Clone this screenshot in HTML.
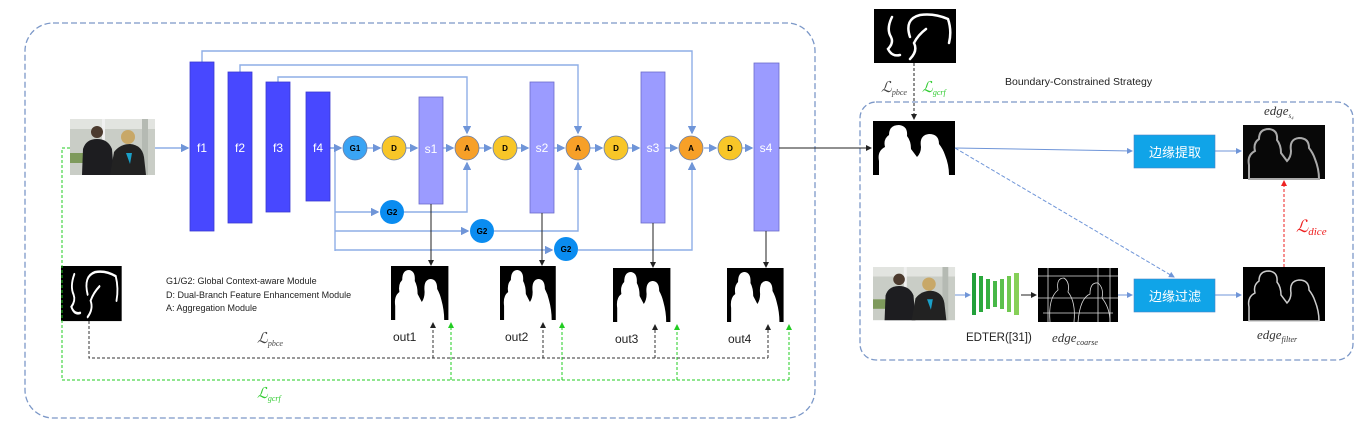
<!DOCTYPE html>
<html><head><meta charset="utf-8"><style>
html,body{margin:0;padding:0;background:#fff;}
svg{display:block;font-family:"Liberation Sans","Noto Sans CJK SC",sans-serif;}
</style></head><body>
<svg width="1366" height="425" viewBox="0 0 1366 425" xmlns="http://www.w3.org/2000/svg">
<defs>
<marker id="ab" markerWidth="6" markerHeight="6" refX="5" refY="3" orient="auto"><path d="M0,0 L6,3 L0,6z" fill="#6f95d8"/></marker>
<marker id="ak" markerWidth="6" markerHeight="6" refX="5" refY="3" orient="auto"><path d="M0,0 L6,3 L0,6z" fill="#222"/></marker>
<marker id="ag" markerWidth="6" markerHeight="6" refX="5" refY="3" orient="auto"><path d="M0,0 L6,3 L0,6z" fill="#2c2"/></marker>
<marker id="ar" markerWidth="6" markerHeight="6" refX="5" refY="3" orient="auto"><path d="M0,0 L6,3 L0,6z" fill="#e22"/></marker>
<g id="photo">
<rect width="85" height="56" fill="#c9cdc6"/>
<rect x="0" y="0" width="85" height="10" fill="#e2e4e0"/>
<rect x="32" y="0" width="3" height="56" fill="#f0f0f0"/>
<rect x="72" y="0" width="6" height="56" fill="#b5bab3"/>
<rect x="0" y="34" width="30" height="10" fill="#7e9a5c"/>
<circle cx="27" cy="13" r="6" fill="#4b3a2e"/>
<path d="M12,56 L13,30 Q16,20 27,20 Q38,20 42,30 L44,56z" fill="#1d1d20"/>
<circle cx="58" cy="18" r="7" fill="#c8a868"/>
<path d="M40,56 L44,33 Q50,25 60,25 Q72,26 74,38 L76,56z" fill="#222"/>
<path d="M56,34 L62,34 L60,45 z" fill="#1aa0c8"/>
</g>
<path id="pp" d="M6,54 L6,40 Q4,30 12,26 Q10,18 16,14 Q16,4 26,4 Q35,5 34,15 Q38,20 38,28 L44,36 Q48,32 48,26 Q46,14 56,13 Q66,13 66,23 Q70,28 72,34 Q76,44 76,54z"/>
<g id="mask"><rect width="82" height="54" fill="#000"/><use href="#pp" fill="#fff"/></g>
<g id="edge"><rect width="82" height="54" fill="#000"/><use href="#pp" fill="none" stroke="#ccc" stroke-width="1.5"/></g>
<g id="scrib">
<rect width="82" height="54" fill="#000"/>
<path d="M18,8 Q12,20 17,28 Q20,34 14,40 Q18,48 26,46 M36,50 Q44,42 40,34 Q44,26 52,20 M36,28 Q30,10 46,6 Q60,4 74,10 Q78,22 75,34" fill="none" stroke="#fff" stroke-width="2.5" stroke-linecap="round"/>
</g>
</defs>

<rect x="25" y="23" width="790" height="395" rx="28" fill="none" stroke="#7c98c8" stroke-width="1.3" stroke-dasharray="6,3"/>
<rect x="860" y="102" width="493" height="258" rx="16" fill="none" stroke="#7c98c8" stroke-width="1.3" stroke-dasharray="6,3"/>

<g fill="none" stroke="#8eaee6" stroke-width="1.4">
<path d="M202,62 V51 H692 V133" marker-end="url(#ab)"/>
<path d="M240,72 V65 H578 V133" marker-end="url(#ab)"/>
<path d="M278,82 V77 H467 V133" marker-end="url(#ab)"/>
<path d="M330,148 H335 V251"/>
<path d="M335,212 H378" marker-end="url(#ab)"/>
<path d="M404,212 H467 V163" marker-end="url(#ab)"/>
<path d="M335,231 H468" marker-end="url(#ab)"/>
<path d="M494,231 H578 V163" marker-end="url(#ab)"/>
<path d="M335,250 H552" marker-end="url(#ab)"/>
<path d="M578,250 H692 V163" marker-end="url(#ab)"/>
<path d="M155,148 H188" marker-end="url(#ab)"/>
<path d="M330,148 H341" marker-end="url(#ab)"/>
<path d="M367,148 H380" marker-end="url(#ab)"/>
<path d="M406,148 H417" marker-end="url(#ab)"/>
<path d="M443,148 H453" marker-end="url(#ab)"/>
<path d="M479,148 H491" marker-end="url(#ab)"/>
<path d="M517,148 H528" marker-end="url(#ab)"/>
<path d="M554,148 H564" marker-end="url(#ab)"/>
<path d="M590,148 H602" marker-end="url(#ab)"/>
<path d="M628,148 H639" marker-end="url(#ab)"/>
<path d="M665,148 H677" marker-end="url(#ab)"/>
<path d="M704,148 H716" marker-end="url(#ab)"/>
<path d="M742,148 H752" marker-end="url(#ab)"/>
</g>

<g fill="#4848ff" stroke="#3a3ad0" stroke-width="0.8">
<rect x="190" y="62" width="24" height="169"/>
<rect x="228" y="72" width="24" height="151"/>
<rect x="266" y="82" width="24" height="130"/>
<rect x="306" y="92" width="24" height="109"/>
</g>
<g fill="#9b9bff" stroke="#6b6bcc" stroke-width="0.8">
<rect x="419" y="97" width="24" height="107"/>
<rect x="530" y="82" width="24" height="131"/>
<rect x="641" y="72" width="24" height="151"/>
<rect x="754" y="63" width="25" height="168"/>
</g>
<g fill="#fff" font-size="12" text-anchor="middle">
<text x="202" y="152">f1</text><text x="240" y="152">f2</text><text x="278" y="152">f3</text><text x="318" y="152">f4</text>
<text x="431" y="153">s1</text><text x="542" y="152">s2</text><text x="653" y="152">s3</text><text x="766" y="152">s4</text>
</g>
<g stroke="#6a7fa8" stroke-width="0.8" font-size="8" font-weight="bold" text-anchor="middle">
<circle cx="355" cy="148" r="12" fill="#3aa4f4"/><text x="355" y="151" stroke="none">G1</text>
<circle cx="394" cy="148" r="12" fill="#f8c628"/><text x="394" y="151" stroke="none">D</text>
<circle cx="467" cy="148" r="12" fill="#f7a028"/><text x="467" y="151" stroke="none">A</text>
<circle cx="505" cy="148" r="12" fill="#f8c628"/><text x="505" y="151" stroke="none">D</text>
<circle cx="578" cy="148" r="12" fill="#f7a028"/><text x="578" y="151" stroke="none">A</text>
<circle cx="616" cy="148" r="12" fill="#f8c628"/><text x="616" y="151" stroke="none">D</text>
<circle cx="691" cy="148" r="12" fill="#f7a028"/><text x="691" y="151" stroke="none">A</text>
<circle cx="730" cy="148" r="12" fill="#f8c628"/><text x="730" y="151" stroke="none">D</text>
<circle cx="392" cy="212" r="12" fill="#0a8cf0" stroke="none"/><text x="392" y="215" stroke="none">G2</text>
<circle cx="482" cy="231" r="12" fill="#0a8cf0" stroke="none"/><text x="482" y="234" stroke="none">G2</text>
<circle cx="566" cy="249" r="12" fill="#0a8cf0" stroke="none"/><text x="566" y="252" stroke="none">G2</text>
</g>

<g transform="translate(70,119)"><use href="#photo"/></g>
<g transform="translate(61,266) scale(0.74,1.02)"><use href="#scrib"/></g>
<g transform="translate(391,266) scale(0.7,1)"><use href="#mask"/></g>
<g transform="translate(500,266) scale(0.68,1)"><use href="#mask"/></g>
<g transform="translate(613,268) scale(0.7,1)"><use href="#mask"/></g>
<g transform="translate(727,268) scale(0.69,1)"><use href="#mask"/></g>

<g stroke="#222" stroke-width="1" fill="none">
<path d="M431,204 V265" marker-end="url(#ak)"/>
<path d="M542,213 V265" marker-end="url(#ak)"/>
<path d="M653,223 V267" marker-end="url(#ak)"/>
<path d="M766,231 V267" marker-end="url(#ak)"/>
</g>
<g stroke="#333" stroke-width="1" fill="none" stroke-dasharray="3,2">
<path d="M89,321 V358 H768"/>
<path d="M433,358 V323" marker-end="url(#ak)"/>
<path d="M543,358 V323" marker-end="url(#ak)"/>
<path d="M655,358 V325" marker-end="url(#ak)"/>
<path d="M768,358 V325" marker-end="url(#ak)"/>
</g>
<g stroke="#2c2" stroke-width="1" fill="none" stroke-dasharray="3,2">
<path d="M70,148 H62 V380 H789"/>
<path d="M451,380 V323" marker-end="url(#ag)"/>
<path d="M562,380 V323" marker-end="url(#ag)"/>
<path d="M677,380 V325" marker-end="url(#ag)"/>
<path d="M789,380 V325" marker-end="url(#ag)"/>
</g>

<g font-size="9" fill="#222">
<text x="166" y="284">G1/G2: Global Context-aware Module</text>
<text x="166" y="298">D: Dual-Branch Feature Enhancement Module</text>
<text x="166" y="311">A: Aggregation Module</text>
</g>
<g font-size="12" fill="#222">
<text x="393" y="341">out1</text><text x="505" y="341">out2</text><text x="615" y="343">out3</text><text x="728" y="343">out4</text>
</g>
<g font-family="Liberation Serif,serif" font-style="italic">
<text x="257" y="343" font-size="15" fill="#444">ℒ<tspan font-size="8" dy="3">pbce</tspan></text>
<text x="257" y="398" font-size="15" fill="#3c3">ℒ<tspan font-size="8" dy="3">gcrf</tspan></text>
<text x="881" y="92" font-size="15" fill="#444">ℒ<tspan font-size="8" dy="3">pbce</tspan></text>
<text x="922" y="92" font-size="15" fill="#3c3">ℒ<tspan font-size="8" dy="3">gcrf</tspan></text>
<text x="1296" y="232" font-size="17" fill="#e22">ℒ<tspan font-size="11" dy="3">dice</tspan></text>
<text x="1264" y="115" font-size="13" fill="#333">edge<tspan font-size="7" dy="3">s₄</tspan></text>
<text x="1052" y="342" font-size="13" fill="#333">edge<tspan font-size="8" dy="3">coarse</tspan></text>
<text x="1257" y="339" font-size="13" fill="#333">edge<tspan font-size="8" dy="3">filter</tspan></text>
</g>

<g transform="translate(874,9)"><use href="#scrib"/></g>
<g transform="translate(873,121)"><use href="#mask"/></g>
<g transform="translate(873,267) scale(0.965,0.95)"><use href="#photo"/></g>
<g transform="translate(1243,125)"><rect width="82" height="54" fill="#080808"/><use href="#pp" fill="none" stroke="#aaa" stroke-width="2"/></g>
<g transform="translate(1243,267)"><use href="#edge"/></g>
<g transform="translate(1038,268)"><rect width="80" height="54" fill="#000"/><g stroke="#ddd" stroke-width="0.8" fill="none"><path d="M0,8 H80 M10,0 V54 M0,30 H80 M60,0 V54 M5,45 H75 M72,0 V54"/><path d="M12,54 Q10,30 20,22 Q18,10 26,10 Q32,14 30,24 Q38,34 36,54 M40,54 Q42,30 52,26 Q52,14 60,15 Q66,20 64,30 Q72,40 72,54"/></g></g>
<g fill="none" stroke="#222" stroke-dasharray="3,2"><path d="M914,63 V119" marker-end="url(#ak)"/></g>
<path d="M779,148 H871" stroke="#222" fill="none" marker-end="url(#ak)"/>
<g stroke="#6f95d8" stroke-width="1" fill="none">
<path d="M955,148 L1132,151" marker-end="url(#ab)"/>
<path d="M1215,151 H1241" marker-end="url(#ab)"/>
<path d="M955,148 L1174,277" stroke-dasharray="4,2" marker-end="url(#ab)"/>
<path d="M955,295 H970" marker-end="url(#ab)"/>
<path d="M1118,295 H1132" marker-end="url(#ab)"/>
<path d="M1215,295 H1241" marker-end="url(#ab)"/>
</g>
<path d="M1021,295 H1036" stroke="#222" fill="none" marker-end="url(#ak)"/>
<path d="M1284,267 V181" stroke="#e22" stroke-dasharray="3,2" fill="none" marker-end="url(#ar)"/>
<g>
<rect x="972" y="273" width="4" height="42" fill="#22a03a"/>
<rect x="979" y="276" width="4" height="36" fill="#2aa83c"/>
<rect x="986" y="279" width="4" height="30" fill="#36b040"/>
<rect x="993" y="281" width="4" height="26" fill="#48b848"/>
<rect x="1000" y="279" width="4" height="30" fill="#5cc04c"/>
<rect x="1007" y="276" width="4" height="36" fill="#70c850"/>
<rect x="1014" y="273" width="5" height="42" fill="#86d058"/>
</g>
<rect x="1134" y="135" width="81" height="33" fill="#10a4e8" stroke="#4a86c8" stroke-width="0.6"/>
<rect x="1134" y="279" width="81" height="33" fill="#10a4e8" stroke="#4a86c8" stroke-width="0.6"/>
<g fill="#fff" font-size="13" text-anchor="middle">
<text x="1175" y="157">边缘提取</text><text x="1175" y="301">边缘过滤</text>
</g>
<text x="1005" y="85" font-size="10.5" fill="#222">Boundary-Constrained Strategy</text>
<text x="966" y="341" font-size="11.5" fill="#222">EDTER([31])</text>
</svg>
</body></html>
